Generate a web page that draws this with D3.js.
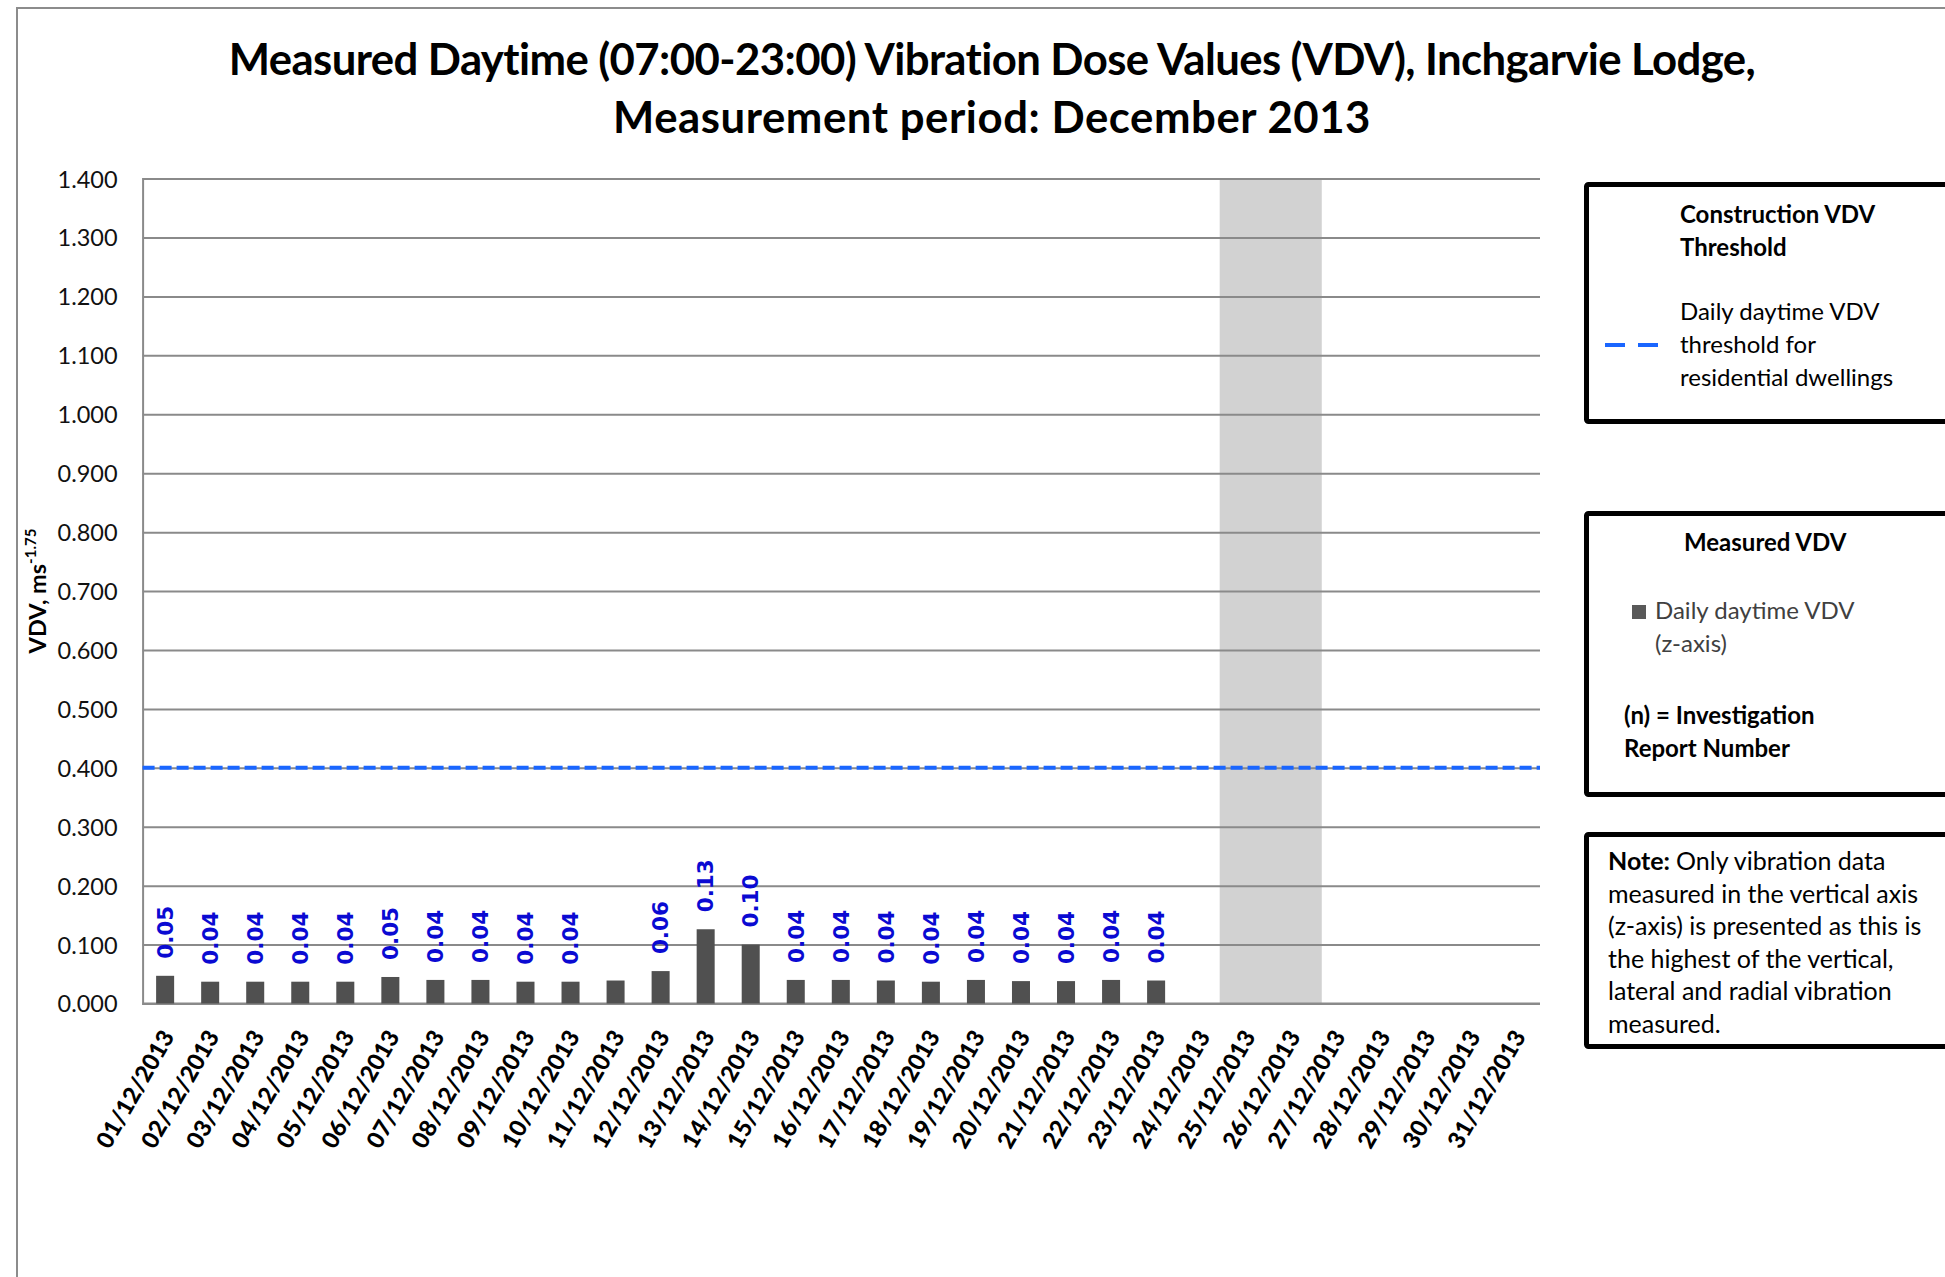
<!DOCTYPE html>
<html>
<head>
<meta charset="utf-8">
<script src="https://cdn.jsdelivr.net/npm/d3@7"></script>
<style>
  html, body { margin: 0; padding: 0; background: #fff; }
  svg { display: block; }
</style>
</head>
<body>
<svg id="chart" width="1945" height="1277"></svg>
<script>
// ---------- DATA ----------
const dates = ["01/12/2013","02/12/2013","03/12/2013","04/12/2013","05/12/2013","06/12/2013","07/12/2013","08/12/2013","09/12/2013","10/12/2013","11/12/2013","12/12/2013","13/12/2013","14/12/2013","15/12/2013","16/12/2013","17/12/2013","18/12/2013","19/12/2013","20/12/2013","21/12/2013","22/12/2013","23/12/2013","24/12/2013","25/12/2013","26/12/2013","27/12/2013","28/12/2013","29/12/2013","30/12/2013","31/12/2013"];
const vdvValues = [0.047,0.037,0.037,0.037,0.037,0.045,0.040,0.040,0.037,0.037,0.039,0.055,0.126,0.100,0.040,0.040,0.039,0.037,0.040,0.038,0.038,0.040,0.039,null,null,null,null,null,null,null,null];
const vdvLabels = ["0.05","0.04","0.04","0.04","0.04","0.05","0.04","0.04","0.04","0.04",null,"0.06","0.13","0.10","0.04","0.04","0.04","0.04","0.04","0.04","0.04","0.04","0.04",null,null,null,null,null,null,null,null];
const thresholdValue = 0.4;
const shadedDates = ["25/12/2013","26/12/2013"];
const yTicks = [0,0.1,0.2,0.3,0.4,0.5,0.6,0.7,0.8,0.9,1.0,1.1,1.2,1.3,1.4];
const titleLines = ["Measured Daytime (07:00-23:00) Vibration Dose Values (VDV), Inchgarvie Lodge,","Measurement period: December 2013"];
const noteLines = ["Only vibration data","measured in the vertical axis","(z-axis) is presented as this is","the highest of the vertical,","lateral and radial vibration","measured."];

// ---------- LAYOUT ----------
const svg = d3.select("#chart");
const W = 1945, H = 1277;
const plot = {left: 142.6, right: 1540, top: 178.6, bottom: 1003.5};
const FONT = "Lato, 'Open Sans', sans-serif";

svg.append("rect").attr("width", W).attr("height", H).attr("fill", "#fff");
// outer frame
svg.append("path").attr("d", `M17,${H} L17,8 L${W},8`).attr("fill","none").attr("stroke","#8c8c8c").attr("stroke-width",2);

const x = d3.scaleBand().domain(dates).range([plot.left, plot.right - 1]).paddingInner(0.6).paddingOuter(0.3);
const y = d3.scaleLinear().domain([0, 1.4]).range([plot.bottom, plot.top]);
const step = x.step();

// title
const title = svg.append("g");
titleLines.forEach((t, i) => {
  title.append("text").attr("x", 992).attr("y", i === 0 ? 75 : 133)
    .attr("text-anchor","middle").attr("font-family", FONT).attr("font-weight","bold")
    .attr("font-size", 44).attr("fill","#000").text(t);
});
{
  const nodes = title.selectAll("text").nodes();
  const len1 = nodes[0].getComputedTextLength();
  const fs = 44 * 1528 / len1 * 1.03;
  title.selectAll("text").attr("font-size", fs);
  // keep the first line at the reference width
  const l1 = nodes[0].getComputedTextLength();
  const n1 = titleLines[0].length;
  nodes[0].setAttribute("letter-spacing", ((1528 - l1) / n1).toFixed(3));
  const l2 = nodes[1].getComputedTextLength();
  const n2 = titleLines[1].length;
  nodes[1].setAttribute("letter-spacing", Math.min(1.2, (758 - l2) / n2).toFixed(3));
}

// shaded holiday band
{
  const x0 = x(shadedDates[0]) - (step - x.bandwidth()) / 2 - 4;
  const x1 = x(shadedDates[shadedDates.length - 1]) + x.bandwidth() + (step - x.bandwidth()) / 2 + 8;
  svg.append("rect").attr("x", x0).attr("y", y(1.4)).attr("width", x1 - x0).attr("height", y(0) - y(1.4)).attr("fill", "#d2d2d2");
}

// gridlines
const yAxis = d3.axisLeft(y).tickValues(yTicks).tickFormat(d3.format(".3f")).tickSize(-(plot.right - plot.left)).tickPadding(25);
const gy = svg.append("g").attr("transform", `translate(${plot.left},0)`).call(yAxis);
gy.select(".domain").attr("stroke","#8a8a8a").attr("stroke-width",2);
gy.selectAll(".tick line").attr("stroke","#8a8a8a").attr("stroke-width",2);
gy.selectAll(".tick text").attr("font-family", FONT).attr("font-size", 23.5).attr("fill","#111").attr("dy","0.36em");

// bottom axis
const xAxis = d3.axisBottom(x).tickSize(0).tickFormat(d => d);
const gx = svg.append("g").attr("transform", `translate(0,${plot.bottom})`).call(xAxis);
gx.select(".domain").attr("stroke","#8a8a8a").attr("stroke-width",2).attr("d", `M${plot.left},0H${plot.right}`);
gx.selectAll(".tick text")
  .attr("font-family", FONT).attr("font-weight","900").attr("font-size", 23.5).attr("fill","#000")
  .attr("text-anchor","end").attr("x", 0).attr("y", 0).attr("dy", 0)
  .attr("transform", `translate(${x.bandwidth()/2 + 1},33) rotate(-60)`);

// bars
const barData = dates.map((d, i) => ({date: d, v: vdvValues[i], label: vdvLabels[i]}));
svg.append("g").selectAll("rect").data(barData.filter(d => d.v != null)).join("rect")
  .attr("x", d => x(d.date)).attr("width", x.bandwidth())
  .attr("y", d => y(d.v)).attr("height", d => y(0) - y(d.v))
  .attr("fill", "#505050");

// threshold line
svg.append("line").attr("x1", plot.left).attr("x2", plot.right)
  .attr("y1", y(thresholdValue)).attr("y2", y(thresholdValue))
  .attr("stroke", "#1a66ff").attr("stroke-width", 4).attr("stroke-dasharray", "12,5");

// data labels
svg.append("g").selectAll("text").data(barData.filter(d => d.v != null && d.label)).join("text")
  .attr("transform", d => `translate(${x(d.date) + x.bandwidth()/2},${y(d.v) - 17}) rotate(-90)`)
  .attr("dy", "0.36em").attr("text-anchor", "start")
  .attr("font-family", "'DejaVu Sans', Verdana, sans-serif").attr("font-weight", "bold")
  .attr("font-size", 21.5).attr("fill", "#0a0ad2").text(d => d.label);

// y axis title
{
  const t = svg.append("text").attr("transform", "translate(46,591) rotate(-90)")
    .attr("text-anchor","middle").attr("font-family", FONT).attr("font-weight","bold").attr("font-size", 23.5).attr("fill","#000");
  t.append("tspan").text("VDV, ms");
  t.append("tspan").attr("font-size", 15).attr("dy", -10).text("-1.75");
}

// ---------- LEGEND BOXES ----------
function box(top, bottom) {
  svg.append("rect").attr("x", 1586.5).attr("y", top + 2.5).attr("width", 420).attr("height", bottom - top - 5)
    .attr("fill", "#fff").attr("stroke", "#000").attr("stroke-width", 5).attr("rx", 2);
}
function txt(xp, yp, s, opts = {}) {
  return svg.append("text").attr("x", xp).attr("y", yp).attr("font-family", FONT)
    .attr("font-size", opts.size || 24).attr("font-weight", opts.bold ? "bold" : "normal")
    .attr("fill", opts.fill || "#000").text(s);
}
// box 1
box(182, 424);
txt(1680, 223, "Construction VDV", {bold: true});
txt(1680, 256, "Threshold", {bold: true});
txt(1680, 320, "Daily daytime VDV");
txt(1680, 353, "threshold for");
txt(1680, 386, "residential dwellings");
svg.append("line").attr("x1", 1605).attr("x2", 1658).attr("y1", 345).attr("y2", 345)
  .attr("stroke", "#1a66ff").attr("stroke-width", 4).attr("stroke-dasharray", "20,13");

// box 2
box(511, 797);
txt(1684, 551, "Measured VDV", {bold: true});
svg.append("rect").attr("x", 1632).attr("y", 605).attr("width", 14).attr("height", 14).attr("fill", "#595959");
txt(1655, 619, "Daily daytime VDV", {fill: "#404040"});
txt(1655, 652, "(z-axis)", {fill: "#404040"});
txt(1624, 724, "(n) = Investigation", {bold: true});
txt(1624, 757, "Report Number", {bold: true});

// box 3
box(832, 1049);
noteLines.forEach((l, i) => {
  const t = svg.append("text").attr("x", 1608).attr("y", 870 + i * 32.5).attr("font-family", FONT).attr("font-size", 25).attr("fill", "#000");
  if (i === 0) { t.append("tspan").attr("font-weight", "bold").text("Note: "); }
  t.append("tspan").text(l);
});
</script>
</body>
</html>
